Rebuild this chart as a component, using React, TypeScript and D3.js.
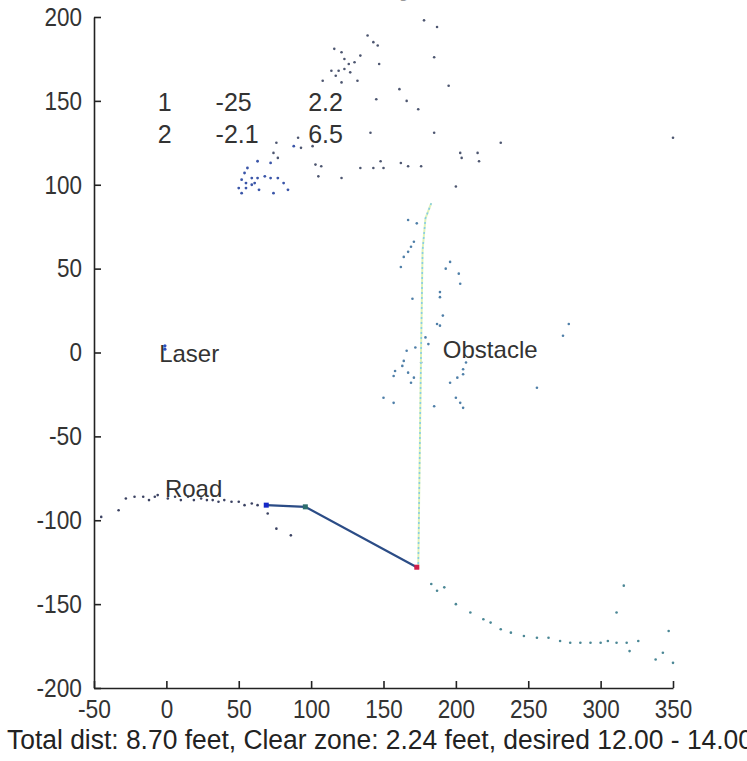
import React, { useEffect, useRef } from 'react';
import * as d3 from 'd3';

const W = 747;
const H = 761;

const xTicks = [-50, 0, 50, 100, 150, 200, 250, 300, 350];
const yTicks = [-200, -150, -100, -50, 0, 50, 100, 150, 200];

// returns far above the road (trees, buildings)
const farPoints: [number, number][] = [
  [139, 189], [143, 185], [146, 183], [116, 181], [121, 179], [134, 177], [123, 175],
  [130, 173], [147, 172], [126, 172], [114, 168], [119, 168], [123, 169], [127, 167],
  [117, 165], [108, 162], [121, 161], [132, 162], [161, 157], [145, 151], [166, 150],
  [174, 145], [141, 131], [91, 128], [101, 123], [93, 122], [76, 125], [74, 119],
  [77, 116], [103, 112], [107, 111], [105, 105], [121, 104], [134, 110], [143, 110],
  [148, 114], [150, 110], [162, 113], [167, 111], [176, 111], [178, 198], [187, 194],
  [185, 176], [195, 159], [185, 131], [231, 125], [203, 119], [215, 119], [204, 116],
  [216, 114], [350, 128], [200, 99],
];

// the denser bluish clump on the left of the far returns
const farBluePoints: [number, number][] = [
  [56, 110], [54, 107], [59, 104], [63, 104], [68, 105], [72, 104], [77, 104], [81, 101],
  [84, 97], [74, 95], [50, 98], [55, 101], [61, 101], [52, 103], [55, 98], [59, 100],
  [64, 97], [52, 95], [63, 114], [72, 113], [88, 123],
];

const obstaclePoints: [number, number][] = [
  [167, 79], [173, 77], [171, 66], [169, 63], [167, 60], [164, 57], [162, 51], [196, 54],
  [193, 50], [202, 47], [203, 41], [189, 36], [189, 33], [170, 32], [191, 22], [187, 17],
  [189, 16], [278, 17], [274, 10], [179, 9], [181, 5], [172, 3], [166, 1], [164, -5],
  [163, -8], [158, -11], [157, -14], [167, -12], [171, -15], [169, -18], [176, -6],
  [207, -6], [205, -10], [205, -13], [201, -15], [196, -18], [256, -21], [150, -27],
  [157, -30], [200, -27], [203, -30], [205, -33], [185, -32],
];

const roadPoints: [number, number][] = [
  [-45, -98], [-33, -94], [-28, -87], [-22, -86], [-16, -86], [-12, -88], [-8, -86],
  [-6, -85], [1, -87], [6, -86], [10, -88], [15, -86], [19, -88], [24, -87], [28, -88],
  [32, -88], [36, -89], [40, -88], [45, -89], [50, -89], [54, -91], [59, -90], [63, -91],
  [70, -96], [76, -105], [86, -109],
];

// ground falling away past the obstacle
const slopePoints: [number, number][] = [
  [183, -138], [187, -142], [192, -140], [200, -150], [210, -155], [219, -159], [224, -161],
  [231, -165], [238, -167], [247, -169], [256, -170], [264, -170], [272, -172], [279, -173],
  [286, -173], [293, -173], [300, -173], [305, -172], [311, -173], [318, -173], [320, -178],
  [326, -172], [316, -139], [311, -155], [347, -166], [343, -179], [338, -183], [350, -185],
];

const laserPoints: [number, number][] = [[-1, 4], [-1, 2]];

const obstacleLine: [number, number][] = [[174, -129], [176, 4], [177, 61], [179, 80], [183, 89]];
const roadFit: [number, number][] = [[69, -91], [96, -92], [173, -128]];
const fitColors = ['#1428c8', '#2d6e6e', '#d01e4a'];

const tableRows = [
  ['1', '-25', '2.2'],
  ['2', '-2.1', '6.5'],
];
const tableColX = [-6, 34, 98];
const tableRowY = [144, 125];

const labels = [
  { text: 'Laser', x: -5, y: -5.5 },
  { text: 'Obstacle', x: 191, y: -3 },
  { text: 'Road', x: -1, y: -86 },
];

const title = 'Road Boundary  Detection';
const footer = 'Total dist: 8.70 feet, Clear zone: 2.24  feet, desired 12.00 - 14.00';

// matlab tick font is narrow; squeeze the glyphs to that width
const tickWidth = (s: string) => s.replace('-', '').length * 12.5 + (s.startsWith('-') ? 8 : 0);

const App = () => {
  const svgRef = useRef<SVGSVGElement>(null);

  useEffect(() => {
    const svg = d3.select(svgRef.current);
    svg.selectAll('*').remove();

    const x = d3.scaleLinear().domain([-50, 350]).range([94, 673]);
    const y = d3.scaleLinear().domain([-200, 200]).range([688, 17]);

    const font = '"Liberation Sans", Arial, sans-serif';

    // title sits above the frame, only its bottom edge shows
    svg.append('text')
      .attr('x', 187).attr('y', -4)
      .attr('textLength', 378).attr('lengthAdjust', 'spacingAndGlyphs')
      .style('font-family', font).style('font-size', '26px').attr('fill', '#999')
      .text(title);

    // axes, ticks pointing inward like matlab
    const fmt = (d: d3.NumberValue) => String(d);
    const xAxis = svg.append('g')
      .attr('transform', `translate(0,${y(-200)})`)
      .call(d3.axisBottom(x).tickValues(xTicks).tickSize(-7).tickSizeOuter(0).tickPadding(7).tickFormat(fmt));
    const yAxis = svg.append('g')
      .attr('transform', `translate(${x(-50)},0)`)
      .call(d3.axisLeft(y).tickValues(yTicks).tickSize(-7).tickSizeOuter(0).tickPadding(12).tickFormat(fmt));

    [xAxis, yAxis].forEach(a => {
      a.select('.domain').attr('stroke', '#222').attr('stroke-width', 1.6);
      a.selectAll('.tick line').attr('stroke', '#222').attr('stroke-width', 1.6);
      a.selectAll<SVGTextElement, number>('.tick text')
        .attr('fill', '#333')
        .attr('textLength', d => tickWidth(String(d)))
        .attr('lengthAdjust', 'spacingAndGlyphs')
        .style('font-family', font)
        .style('font-size', '26px');
    });
    xAxis.selectAll('.tick text').attr('dy', '0.9em');

    const dots = (pts: [number, number][], color: string, r: number) => {
      svg.append('g').selectAll('circle')
        .data(pts)
        .join('circle')
        .attr('cx', d => x(d[0]))
        .attr('cy', d => y(d[1]))
        .attr('r', r)
        .attr('fill', color);
    };

    dots(farPoints, '#4d5670', 1.3);
    dots(farBluePoints, '#3a55a8', 1.4);
    dots(obstaclePoints, '#4f7fa8', 1.3);
    dots(roadPoints, '#3b4262', 1.3);
    dots(slopePoints, '#4b8795', 1.3);
    dots(laserPoints, '#2a50c0', 1.6);

    // vertical obstacle line
    const line = d3.line<[number, number]>().x(d => x(d[0])).y(d => y(d[1]));
    svg.append('path').attr('d', line(obstacleLine))
      .attr('fill', 'none').attr('stroke', '#dff2b8').attr('stroke-width', 2);
    svg.append('path').attr('d', line(obstacleLine))
      .attr('fill', 'none').attr('stroke', '#86cde6').attr('stroke-width', 1.6)
      .attr('stroke-dasharray', '2,3');

    // road fit
    svg.append('path').attr('d', line(roadFit))
      .attr('fill', 'none').attr('stroke', '#2b4c86').attr('stroke-width', 2.2);
    svg.append('g').selectAll('rect')
      .data(roadFit)
      .join('rect')
      .attr('x', d => x(d[0]) - 2.5)
      .attr('y', d => y(d[1]) - 2.5)
      .attr('width', 5).attr('height', 5)
      .attr('fill', (d, i) => fitColors[i]);

    // table of numbers
    tableRows.forEach((row, ri) => {
      row.forEach((cell, ci) => {
        svg.append('text')
          .attr('x', x(tableColX[ci])).attr('y', y(tableRowY[ri]))
          .style('font-family', font).style('font-size', '25px').attr('fill', '#333')
          .text(cell);
      });
    });

    labels.forEach(l => {
      svg.append('text')
        .attr('x', x(l.x)).attr('y', y(l.y))
        .style('font-family', font).style('font-size', '24px').attr('fill', '#333')
        .text(l.text);
    });

    svg.append('text')
      .attr('x', 7).attr('y', 749)
      .attr('textLength', 746).attr('lengthAdjust', 'spacingAndGlyphs')
      .style('font-family', font).style('font-size', '27px').attr('fill', '#222')
      .text(footer);
  }, []);

  return (
    <svg
      ref={svgRef}
      width={W}
      height={H}
      style={{ position: 'absolute', left: 0, top: 0, background: '#fff' }}
    />
  );
};

export default App;
